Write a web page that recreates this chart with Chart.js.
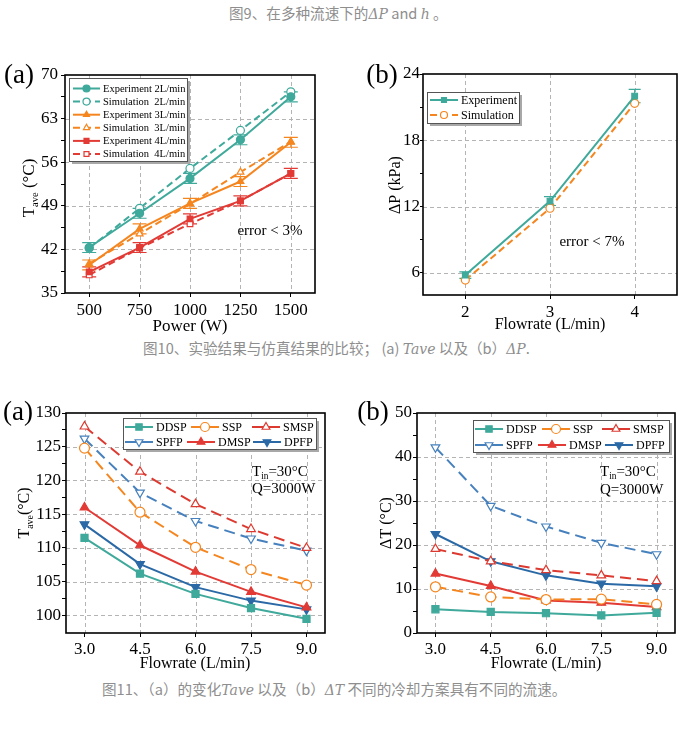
<!DOCTYPE html>
<html><head><meta charset="utf-8">
<script src="https://cdn.jsdelivr.net/npm/chart.js@4.4.0/dist/chart.umd.min.js"></script>
<style>
body{margin:0;background:#fff;width:686px;height:731px;position:relative;overflow:hidden}
.cap{position:absolute;font-family:"Noto Sans CJK SC","Noto Sans",sans-serif;font-size:14.6px;line-height:20px;color:#8e8e8e;white-space:nowrap}
.cap i{font-family:"DejaVu Serif",serif;font-style:italic;font-size:14px}
canvas{position:absolute}
</style></head><body>
<div class="cap" style="left:229px;top:3px">图9、在多种流速下的<i>ΔP</i> and <i>h</i> 。</div>
<div class="cap" style="left:143px;top:338px">图10、实验结果与仿真结果的比较； (a) <i>Tave</i> 以及（b）<i>ΔP</i>.</div>
<div class="cap" style="left:102px;top:679px">图11、（a）的变化<i>Tave</i> 以及（b）<i>ΔT</i> 不同的冷却方案具有不同的流速。</div>
<canvas id="c1" width="335" height="290" style="left:0;top:55px"></canvas>
<canvas id="c2" width="346" height="290" style="left:340px;top:55px"></canvas>
<canvas id="c3" width="340" height="290" style="left:0;top:390px"></canvas>
<canvas id="c4" width="346" height="290" style="left:340px;top:390px"></canvas>
<script>
// ---------- DATA ----------
const power = [500, 750, 1000, 1250, 1500];
const exp2L = [42.3, 47.8, 53.4, 59.6, 66.5];
const sim2L = [42.2, 48.6, 55.0, 61.1, 67.3];
const exp3L = [39.5, 45.3, 49.4, 52.9, 59.2];
const sim3L = [39.7, 44.5, 49.3, 54.4, 59.3];
const exp4L = [38.4, 42.3, 46.9, 49.8, 54.2];
const sim4L = [37.9, 42.2, 46.1, 49.8, 54.2];
const err2L = [0.8, 0.8, 0.8, 0.8, 0.8];
const err3L = [0.8, 0.8, 0.8, 0.8, 0.8];
const err4L = [0.8, 0.8, 0.8, 0.8, 0.8];

const flowB = [2, 3, 4];
const expDP = [5.8, 12.5, 22.0];
const simDP = [5.35, 11.85, 21.35];
const errDP = [0.3, 0.4, 0.6];

const flow = [3.0, 4.5, 6.0, 7.5, 9.0];
const taveDDSP = [111.5, 106.2, 103.2, 101.1, 99.5];
const taveSSP  = [124.8, 115.3, 110.1, 106.8, 104.5];
const taveSMSP = [128.0, 121.3, 116.5, 112.8, 110.0];
const taveSPFP = [126.2, 118.2, 114.0, 111.4, 109.6];
const taveDMSP = [116.0, 110.4, 106.5, 103.5, 101.2];
const taveDPFP = [113.5, 107.6, 104.2, 102.2, 100.9];

const dtDDSP = [5.4, 4.8, 4.5, 4.0, 4.6];
const dtSSP  = [10.5, 8.2, 7.6, 7.7, 6.5];
const dtSMSP = [19.1, 16.3, 14.3, 13.1, 11.8];
const dtSPFP = [42.2, 28.9, 24.2, 20.5, 17.9];
const dtDMSP = [13.5, 10.7, 7.4, 6.9, 5.9];
const dtDPFP = [22.5, 16.3, 13.1, 11.2, 10.6];

// ---------- STYLE ----------
const TEAL = '#3fa99b', ORANGE = '#f5861f', RED = '#e23a35', RED2 = '#dc3a30', BLUE = '#4680bd', DBLUE = '#2b69a6';
const SERIF = '"Liberation Serif","Times New Roman",serif';

function pts(xs, ys){ return xs.map((x,i)=>({x:x, y:ys[i]})); }
function near(v, arr){ return arr.some(a=>Math.abs(a-v)<1e-6); }

const deco = {
  id:'deco',
  beforeDatasetsDraw(chart){
    const o = chart.options.plugins.deco, ctx = chart.ctx, a = chart.chartArea;
    ctx.save();
    ctx.strokeStyle = '#b4b4b4'; ctx.lineWidth = 1; ctx.setLineDash([4,3]);
    o.gridX.forEach(v=>{ const px = Math.round(chart.scales.x.getPixelForValue(v))+0.5;
      ctx.beginPath(); ctx.moveTo(px,a.top); ctx.lineTo(px,a.bottom); ctx.stroke(); });
    o.gridY.forEach(v=>{ const py = Math.round(chart.scales.y.getPixelForValue(v))+0.5;
      ctx.beginPath(); ctx.moveTo(a.left,py); ctx.lineTo(a.right,py); ctx.stroke(); });
    ctx.restore();
    // error bars
    ctx.save();
    chart.data.datasets.forEach((ds,di)=>{
      if(!ds.err) return;
      ctx.strokeStyle = ds.borderColor; ctx.lineWidth = 1.2; ctx.setLineDash([]);
      ds.data.forEach((p,i)=>{
        const px = chart.scales.x.getPixelForValue(p.x);
        const y1 = chart.scales.y.getPixelForValue(p.y+ds.err[i]);
        const y2 = chart.scales.y.getPixelForValue(p.y-ds.err[i]);
        const w = o.cap/2;
        ctx.beginPath();
        ctx.moveTo(px,y1); ctx.lineTo(px,y2);
        ctx.moveTo(px-w,y1); ctx.lineTo(px+w,y1);
        ctx.moveTo(px-w,y2); ctx.lineTo(px+w,y2);
        ctx.stroke();
      });
    });
    ctx.restore();
  },
  afterDraw(chart){
    const o = chart.options.plugins.deco, ctx = chart.ctx, a = chart.chartArea;
    const ox = o.off[0], oy = o.off[1];
    ctx.save();
    // frame
    ctx.strokeStyle = '#000'; ctx.lineWidth = 1.6; ctx.setLineDash([]);
    ctx.strokeRect(a.left, a.top, a.right-a.left, a.bottom-a.top);
    // panel letter
    ctx.fillStyle = '#000'; ctx.textAlign = 'center'; ctx.textBaseline = 'middle';
    ctx.font = '27px ' + SERIF;
    ctx.fillText(o.letter[0], o.letter[1]-ox, o.letter[2]-oy);
    // x title
    ctx.font = o.titleSize + 'px ' + SERIF;
    ctx.fillText(o.xTitle[0], o.xTitle[1]-ox, o.xTitle[2]-oy);
    // y title (rotated, segments)
    drawSegs(ctx, o.yTitle.segs, o.yTitle.x-ox, o.yTitle.y-oy, o.titleSize, -Math.PI/2, 'center');
    // notes
    o.notes.forEach(n=>drawSegs(ctx, n.segs, n.x-ox, n.y-oy, n.size, 0, n.align));
    // legend
    const L = o.legend;
    const bx = L.x-ox, by = L.y-oy;
    ctx.fillStyle = '#a8a8a8'; ctx.fillRect(bx+3, by+3, L.w, L.h);
    ctx.fillStyle = '#fff'; ctx.fillRect(bx, by, L.w, L.h);
    ctx.strokeStyle = '#555'; ctx.lineWidth = 1; ctx.strokeRect(bx+0.5, by+0.5, L.w, L.h);
    ctx.textAlign = 'left'; ctx.textBaseline = 'middle';
    ctx.font = L.size + 'px ' + SERIF;
    L.items.forEach(it=>{
      const ds = chart.data.datasets[it.i];
      const lx = bx + it.x, ly = by + it.y;
      ctx.strokeStyle = ds.borderColor; ctx.lineWidth = ds.borderWidth;
      ctx.setLineDash(ds.borderDash || []);
      ctx.beginPath(); ctx.moveTo(lx, ly); ctx.lineTo(lx+L.len, ly); ctx.stroke();
      ctx.setLineDash([]);
      ctx.fillStyle = ds.pointBackgroundColor; ctx.strokeStyle = ds.pointBorderColor;
      ctx.lineWidth = ds.pointBorderWidth;
      Chart.helpers.drawPoint(ctx, {pointStyle: ds.pointStyle, rotation: ds.pointRotation||0,
        radius: L.pr, borderWidth: ds.pointBorderWidth}, lx+L.len/2, ly);
      ctx.fillStyle = '#000';
      ctx.fillText(ds.label, lx+L.len+3, ly+0.5);
    });
    ctx.restore();
  }
};

function drawSegs(ctx, segs, x, y, size, rot, align){
  ctx.save();
  ctx.translate(x, y); ctx.rotate(rot);
  ctx.textBaseline = 'middle'; ctx.textAlign = 'left'; ctx.fillStyle = '#000';
  let w = 0;
  segs.forEach(s=>{ ctx.font = (s.sub ? size*0.62 : size) + 'px ' + SERIF; w += ctx.measureText(s.t).width; });
  let cx = align === 'center' ? -w/2 : 0;
  segs.forEach(s=>{
    const fs = s.sub ? size*0.62 : size;
    ctx.font = fs + 'px ' + SERIF;
    ctx.fillText(s.t, cx, s.sub ? size*0.32 : 0);
    cx += ctx.measureText(s.t).width;
  });
  ctx.restore();
}

function makeChart(id, o){
  const datasets = o.series.map(s=>({
    label: s.label,
    data: pts(s.xs, s.ys),
    borderColor: s.color,
    backgroundColor: s.color,
    pointBackgroundColor: s.open ? '#fff' : s.color,
    pointBorderColor: s.color,
    pointStyle: s.marker,
    pointRotation: s.rot || 0,
    pointRadius: o.pr,
    pointBorderWidth: 1.2,
    borderWidth: 2,
    borderDash: s.dash ? o.dash : [],
    err: s.err,
    tension: 0,
    fill: false
  }));
  const yAll = o.yMinor;
  const xAll = o.xTicks;
  const tl = o.tickLen || 4;
  return new Chart(document.getElementById(id), {
    type: 'line',
    data: { datasets },
    options: {
      responsive: false, animation: false, devicePixelRatio: 1,
      layout: { padding: { left: 0, top: o.padTop, right: o.padRight, bottom: 0 } },
      plugins: { legend: {display:false}, tooltip: {enabled:false}, deco: o.deco },
      scales: {
        x: {
          type: 'linear', min: o.xMin, max: o.xMax,
          afterBuildTicks: sc => { sc.ticks = xAll.map(v=>({value:v})); },
          afterFit: sc => { sc.height = o.xH; },
          ticks: { autoSkip:false, maxRotation:0, color:'#000', padding: o.xPad,
                   font:{family:SERIF, size:o.tickSize},
                   callback: v => o.xFmt ? Number(v).toFixed(1) : String(v) },
          grid: { drawOnChartArea:false, drawTicks:true, tickLength:4, color:'#000', tickColor:'#000', lineWidth:1 },
          border: { display:false }
        },
        y: {
          type: 'linear', min: o.yMin, max: o.yMax,
          afterBuildTicks: sc => { sc.ticks = yAll.map(v=>({value:v})); },
          afterFit: sc => { sc.width = o.yW; },
          ticks: { autoSkip:false, color:'#000', padding: o.yPad,
                   font:{family:SERIF, size:o.tickSize},
                   callback: v => near(v, o.yMajor) ? String(v) : '' },
          grid: { drawOnChartArea:false, drawTicks:true, tickLength:tl, color:'#000', tickColor:'#000', lineWidth:1 },
          border: { display:false }
        }
      }
    },
    plugins: [deco]
  });
}

// ---------- CHART (a) top ----------
makeChart('c1', {
  pr: 4, dash: [7,4], padTop: 20, padRight: 20, xH: 52, yW: 65, xPad: 3, yPad: 3, tickSize: 17,
  xMin: 380, xMax: 1620, xTicks: power,
  yMin: 35, yMax: 70, yMajor: [35,42,49,56,63,70], yMinor: [35,38.5,42,45.5,49,52.5,56,59.5,63,66.5,70],
  series: [
    {label:'Experiment 2L/min', xs:power, ys:exp2L, color:TEAL, marker:'circle', err:err2L},
    {label:'Simulation  2L/min', xs:power, ys:sim2L, color:TEAL, marker:'circle', open:true, dash:true},
    {label:'Experiment 3L/min', xs:power, ys:exp3L, color:ORANGE, marker:'triangle', err:err3L},
    {label:'Simulation  3L/min', xs:power, ys:sim3L, color:ORANGE, marker:'triangle', open:true, dash:true},
    {label:'Experiment 4L/min', xs:power, ys:exp4L, color:RED, marker:'rect', err:err4L},
    {label:'Simulation  4L/min', xs:power, ys:sim4L, color:RED, marker:'rect', open:true, dash:true}
  ],
  deco: {
    off:[0,55], cap:14, titleSize:17,
    gridX: power, gridY: [42,49,56,63],
    letter: ['(a)', 19, 76],
    xTitle: ['Power (W)', 190, 327],
    yTitle: {x:30, y:188, segs:[{t:'T'},{t:'ave',sub:true},{t:' (°C)'}]},
    notes: [{segs:[{t:'error < 3%'}], x:270, y:231, size:15, align:'center'}],
    legend: {x:69, y:78, w:118, h:83, size:10.5, len:27, pr:3.5,
      items:[0,1,2,3,4,5].map(i=>({i:i, x:4, y:10.5+i*13.1}))}
  }
});

// ---------- CHART (b) top ----------
makeChart('c2', {
  pr: 4, dash: [7,4], padTop: 19, padRight: 9, xH: 50, yW: 83, xPad: 3, yPad: 0, tickLen: 3, tickSize: 17,
  xMin: 1.5, xMax: 4.5, xTicks: flowB,
  yMin: 4, yMax: 24, yMajor: [6,12,18,24], yMinor: [6,9,12,15,18,21,24],
  series: [
    {label:'Experiment', xs:flowB, ys:expDP, color:TEAL, marker:'rect', err:errDP},
    {label:'Simulation', xs:flowB, ys:simDP, color:ORANGE, marker:'circle', open:true, dash:true}
  ],
  deco: {
    off:[340,55], cap:12, titleSize:16,
    gridX: flowB, gridY: [6,12,18],
    letter: ['(b)', 382, 76],
    xTitle: ['Flowrate (L/min)', 550, 325],
    yTitle: {x:396, y:185, segs:[{t:'ΔP (kPa)'}]},
    notes: [{segs:[{t:'error < 7%'}], x:592, y:242, size:15, align:'center'}],
    legend: {x:427, y:92, w:92, h:31, size:12, len:28, pr:3.5,
      items:[{i:0,x:3,y:8},{i:1,x:3,y:23}]}
  }
});

// ---------- CHART (a) bottom ----------
const legItems = [
  {i:0,x:2,y:9},{i:1,x:68,y:9},{i:2,x:129,y:9},
  {i:3,x:2,y:24},{i:4,x:64,y:24},{i:5,x:130,y:24}
];
makeChart('c3', {
  pr: 5, dash: [11,6], padTop: 23, padRight: 15, xH: 47, yW: 66, xPad: 2, yPad: 1, tickSize: 17, xFmt: true,
  xMin: 2.5, xMax: 9.5, xTicks: flow,
  yMin: 97.4, yMax: 130, yMajor: [100,105,110,115,120,125,130],
  yMinor: [100,102.5,105,107.5,110,112.5,115,117.5,120,122.5,125,127.5,130],
  series: [
    {label:'DDSP', xs:flow, ys:taveDDSP, color:TEAL, marker:'rect'},
    {label:'SSP', xs:flow, ys:taveSSP, color:ORANGE, marker:'circle', open:true, dash:true},
    {label:'SMSP', xs:flow, ys:taveSMSP, color:RED2, marker:'triangle', open:true, dash:true},
    {label:'SPFP', xs:flow, ys:taveSPFP, color:BLUE, marker:'triangle', rot:180, open:true, dash:true},
    {label:'DMSP', xs:flow, ys:taveDMSP, color:RED, marker:'triangle'},
    {label:'DPFP', xs:flow, ys:taveDPFP, color:DBLUE, marker:'triangle', rot:180}
  ],
  deco: {
    off:[0,390], cap:10, titleSize:16,
    gridX: flow, gridY: [100,105,110,115,120,125],
    letter: ['(a)', 18, 413],
    xTitle: ['Flowrate (L/min)', 195, 664],
    yTitle: {x:25, y:513, segs:[{t:'T'},{t:'ave',sub:true},{t:'(°C)'}]},
    notes: [
      {segs:[{t:'T'},{t:'in',sub:true},{t:'=30°C'}], x:252, y:472, size:15, align:'left'},
      {segs:[{t:'Q=3000W'}], x:252, y:489, size:15, align:'left'}
    ],
    legend: {x:123, y:418, w:193, h:31, size:12, len:28, pr:4.5, items: legItems}
  }
});

// ---------- CHART (b) bottom ----------
makeChart('c4', {
  pr: 5, dash: [11,6], padTop: 23, padRight: 11, xH: 47, yW: 77, xPad: 2, yPad: 1, tickSize: 17, xFmt: true,
  xMin: 2.5, xMax: 9.5, xTicks: flow,
  yMin: 0, yMax: 50, yMajor: [0,10,20,30,40,50], yMinor: [0,5,10,15,20,25,30,35,40,45,50],
  series: [
    {label:'DDSP', xs:flow, ys:dtDDSP, color:TEAL, marker:'rect'},
    {label:'SSP', xs:flow, ys:dtSSP, color:ORANGE, marker:'circle', open:true, dash:true},
    {label:'SMSP', xs:flow, ys:dtSMSP, color:RED2, marker:'triangle', open:true, dash:true},
    {label:'SPFP', xs:flow, ys:dtSPFP, color:BLUE, marker:'triangle', rot:180, open:true, dash:true},
    {label:'DMSP', xs:flow, ys:dtDMSP, color:RED, marker:'triangle'},
    {label:'DPFP', xs:flow, ys:dtDPFP, color:DBLUE, marker:'triangle', rot:180}
  ],
  deco: {
    off:[340,390], cap:10, titleSize:16,
    gridX: flow, gridY: [10,20,30,40],
    letter: ['(b)', 373, 413],
    xTitle: ['Flowrate (L/min)', 546, 664],
    yTitle: {x:387, y:523, segs:[{t:'ΔT (°C)'}]},
    notes: [
      {segs:[{t:'T'},{t:'in',sub:true},{t:'=30°C'}], x:600, y:472, size:15, align:'left'},
      {segs:[{t:'Q=3000W'}], x:600, y:490, size:15, align:'left'}
    ],
    legend: {x:473, y:420, w:196, h:32, size:12, len:28, pr:4.5,
      items: [{i:0,x:2,y:9},{i:1,x:69,y:9},{i:2,x:129,y:9},{i:3,x:2,y:25},{i:4,x:65,y:25},{i:5,x:132,y:25}]}
  }
});
</script>
</body></html>
